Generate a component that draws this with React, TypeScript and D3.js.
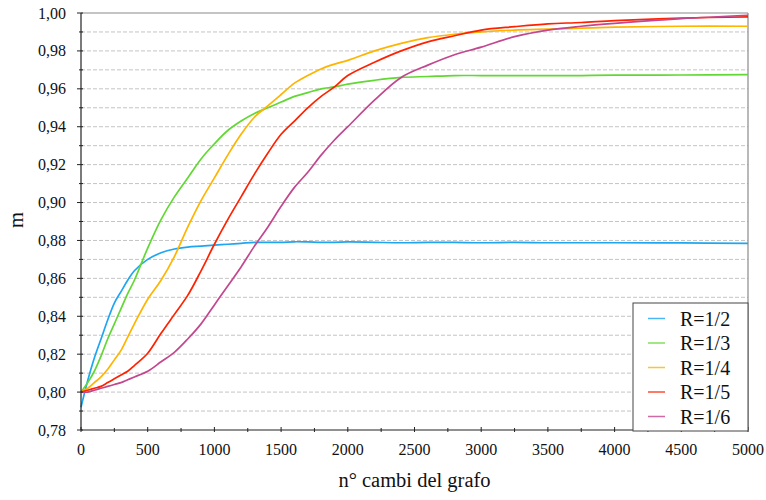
import React from "react";
import * as d3 from "d3";

// Sample points along the x axis (number of graph changes)
const steps = [0, 50, 100, 150, 200, 250, 300, 350, 400, 500, 600, 700, 800, 900, 1000, 1100, 1200, 1300, 1400, 1500, 1600, 1700, 1800, 1900, 2000, 2200, 2400, 2600, 2800, 3000, 3250, 3500, 3750, 4000, 4500, 5000];

const seriesR2 = [0.792, 0.806, 0.818, 0.828, 0.838, 0.847, 0.853, 0.859, 0.864, 0.870, 0.8735, 0.8755, 0.8765, 0.877, 0.8775, 0.878, 0.8785, 0.879, 0.879, 0.879, 0.8793, 0.8792, 0.879, 0.879, 0.8792, 0.879, 0.8788, 0.879, 0.879, 0.8788, 0.879, 0.8788, 0.8788, 0.8788, 0.8787, 0.8785];
const seriesR3 = [0.800, 0.805, 0.811, 0.819, 0.828, 0.836, 0.844, 0.852, 0.859, 0.876, 0.891, 0.903, 0.913, 0.923, 0.931, 0.938, 0.943, 0.947, 0.950, 0.953, 0.956, 0.958, 0.960, 0.961, 0.9625, 0.9645, 0.966, 0.9665, 0.967, 0.967, 0.967, 0.967, 0.967, 0.9672, 0.9673, 0.9675];
const seriesR4 = [0.800, 0.802, 0.805, 0.808, 0.812, 0.817, 0.822, 0.829, 0.836, 0.849, 0.859, 0.8715, 0.887, 0.901, 0.913, 0.925, 0.936, 0.945, 0.951, 0.957, 0.963, 0.967, 0.9705, 0.973, 0.975, 0.980, 0.984, 0.987, 0.9888, 0.990, 0.991, 0.9915, 0.992, 0.9925, 0.993, 0.993];
const seriesR5 = [0.800, 0.801, 0.802, 0.803, 0.805, 0.807, 0.809, 0.811, 0.814, 0.8205, 0.831, 0.841, 0.851, 0.864, 0.878, 0.891, 0.903, 0.915, 0.926, 0.936, 0.943, 0.950, 0.956, 0.961, 0.967, 0.974, 0.980, 0.9848, 0.988, 0.991, 0.9928, 0.9943, 0.995, 0.996, 0.9973, 0.998];
const seriesR6 = [0.800, 0.800, 0.801, 0.802, 0.803, 0.804, 0.805, 0.8065, 0.808, 0.811, 0.816, 0.821, 0.828, 0.836, 0.846, 0.856, 0.866, 0.877, 0.887, 0.898, 0.908, 0.916, 0.925, 0.933, 0.940, 0.954, 0.966, 0.9725, 0.978, 0.982, 0.9875, 0.991, 0.993, 0.9945, 0.997, 0.9988];

const seriesNames = ["R=1/2", "R=1/3", "R=1/4", "R=1/5", "R=1/6"];
const seriesColors = ["#1ea6f2", "#62d834", "#ffb400", "#ff2200", "#c2478f"];
const seriesValues = [seriesR2, seriesR3, seriesR4, seriesR5, seriesR6];

const xTicks = [0, 500, 1000, 1500, 2000, 2500, 3000, 3500, 4000, 4500, 5000];
const yTicks = [0.78, 0.8, 0.82, 0.84, 0.86, 0.88, 0.9, 0.92, 0.94, 0.96, 0.98, 1.0];

const W = 766;
const H = 500;
const M = { left: 81, right: 18, top: 13, bottom: 70 };
const FONT = "Liberation Serif, Tinos, DejaVu Serif, serif";
const textStyle = { fontFamily: FONT };

export default function App() {
  const x = d3.scaleLinear().domain([0, 5000]).range([M.left, W - M.right]);
  const y = d3.scaleLinear().domain([0.78, 1.0]).range([H - M.bottom, M.top]);

  const line = d3
    .line<[number, number]>()
    .x((d) => x(d[0]))
    .y((d) => y(d[1]))
    .curve(d3.curveCatmullRom.alpha(0.5));

  const gridVals = d3.range(1, 22).map((i) => 0.78 + i * 0.01);
  const yMinor = d3.range(0, 11).map((i) => 0.79 + i * 0.02);
  const xMinor = d3.range(0, 10).map((i) => 250 + i * 500);

  const fmtY = (v: number) => v.toFixed(2).replace(".", ",");

  const x0 = x(0);
  const x1 = x(5000);
  const y0 = y(0.78);
  const y1 = y(1.0);

  // legend box geometry
  const lg = { x: 633, y: 303, w: 115, h: 128, row: 24.5 };

  return (
    <svg
      width={W}
      height={H}
      style={{ position: "absolute", left: 0, top: 0, background: "#fff" }}
    >
      {/* dashed horizontal grid */}
      {gridVals.map((v) => (
        <line
          key={"g" + v}
          x1={x0}
          x2={x1}
          y1={y(v)}
          y2={y(v)}
          stroke="#c4c4c4"
          strokeWidth={1}
          strokeDasharray="4,2"
        />
      ))}

      {/* top and right frame */}
      <line x1={x0} x2={x1} y1={y1} y2={y1} stroke="#8a8a8a" strokeWidth={1.2} />
      <line x1={x1} x2={x1} y1={y1} y2={y0} stroke="#8a8a8a" strokeWidth={1.2} />

      {/* series */}
      {seriesValues.map((vals, i) => (
        <path
          key={seriesNames[i]}
          d={line(steps.map((s, j) => [s, vals[j]] as [number, number])) || ""}
          fill="none"
          stroke={seriesColors[i]}
          strokeWidth={1.7}
          strokeLinejoin="round"
        />
      ))}

      {/* y axis */}
      <line x1={x0} x2={x0} y1={y1} y2={y0} stroke="#222" strokeWidth={1.2} />
      {yTicks.map((v) => (
        <g key={"yt" + v}>
          <line x1={x0 - 4} x2={x0 + 2} y1={y(v)} y2={y(v)} stroke="#222" strokeWidth={1} />
          <text
            x={66}
            y={y(v)}
            textAnchor="end"
            dominantBaseline="central"
            style={textStyle}
            fontSize={16}
            fill="#111"
          >
            {fmtY(v)}
          </text>
        </g>
      ))}
      {yMinor.map((v) => (
        <line key={"ym" + v} x1={x0 - 2} x2={x0 + 2} y1={y(v)} y2={y(v)} stroke="#222" strokeWidth={1} />
      ))}

      {/* x axis */}
      <line x1={x0} x2={x1} y1={y0} y2={y0} stroke="#222" strokeWidth={1.2} />
      {xTicks.map((v) => (
        <g key={"xt" + v}>
          <line x1={x(v)} x2={x(v)} y1={y0 - 3} y2={y0 + 2} stroke="#222" strokeWidth={1} />
          <text
            x={x(v)}
            y={y0 + 19}
            textAnchor="middle"
            dominantBaseline="central"
            style={textStyle}
            fontSize={16}
            fill="#111"
          >
            {v}
          </text>
        </g>
      ))}
      {xMinor.map((v) => (
        <line key={"xm" + v} x1={x(v)} x2={x(v)} y1={y0 - 2} y2={y0 + 2} stroke="#222" strokeWidth={1} />
      ))}

      {/* axis titles */}
      <text
        x={(x0 + x1) / 2}
        y={487}
        textAnchor="middle"
        style={textStyle}
        fontSize={20.5}
        fill="#111"
      >
        n° cambi del grafo
      </text>
      <text
        transform={`translate(23, ${220}) rotate(-90)`}
        textAnchor="middle"
        style={textStyle}
        fontSize={20.5}
        fill="#111"
      >
        m
      </text>

      {/* legend */}
      <rect x={lg.x} y={lg.y} width={lg.w} height={lg.h} fill="#fff" stroke="#444" strokeWidth={1} />
      {seriesNames.map((name, i) => {
        const cy = lg.y + 15.5 + i * lg.row;
        return (
          <g key={"lg" + name}>
            <line x1={lg.x + 15} x2={lg.x + 32} y1={cy} y2={cy} stroke={seriesColors[i]} strokeWidth={1.5} opacity={0.8} />
            <text
              x={lg.x + 47}
              y={cy}
              dominantBaseline="central"
              style={textStyle}
              fontSize={20}
              fill="#111"
            >
              {name}
            </text>
          </g>
        );
      })}
    </svg>
  );
}
